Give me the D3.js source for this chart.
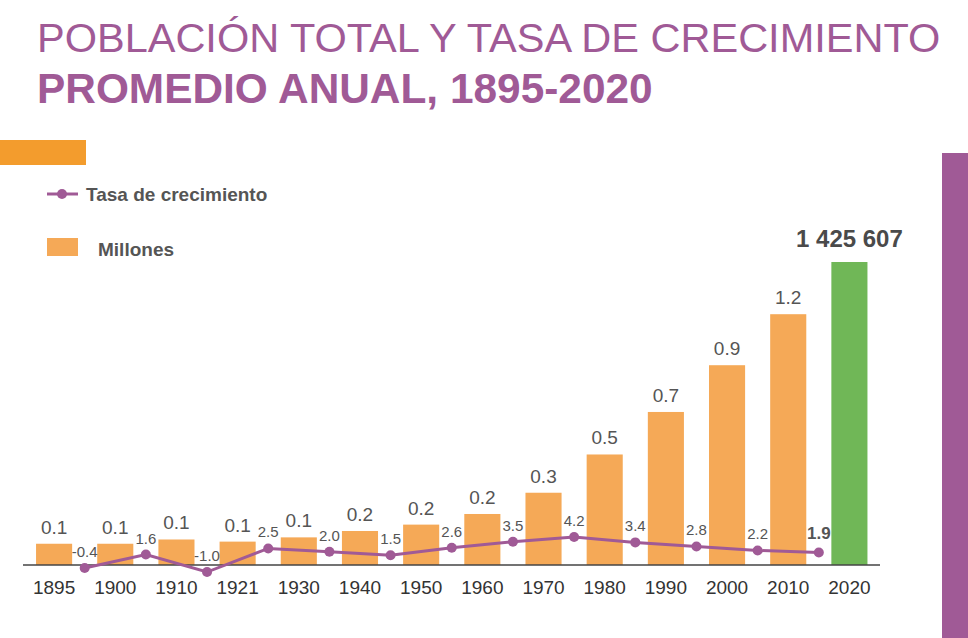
<!DOCTYPE html>
<html><head><meta charset="utf-8">
<script src="https://cdn.jsdelivr.net/npm/d3@7"></script>
<style>body{margin:0;background:#fff}svg{display:block}</style>
</head><body>
<svg id="c" width="968" height="638"></svg>
<script>
const years = ["1895","1900","1910","1921","1930","1940","1950","1960","1970","1980","1990","2000","2010","2020"];
const millones = [0.10,0.10,0.12,0.11,0.13,0.16,0.19,0.24,0.34,0.52,0.72,0.94,1.18,1.425607];
const lastLabel = "1 425 607";
const tasa = [-0.4,1.6,-1.0,2.5,2.0,1.5,2.6,3.5,4.2,3.4,2.8,2.2,1.9];
const titleLines = ["POBLACIÓN TOTAL Y TASA DE CRECIMIENTO","PROMEDIO ANUAL, 1895-2020"];

const svg = d3.select("#c");
const purple = "#a05a96", orange = "#f5a957", green = "#70b757", txt = "#555";
const font = "'Liberation Sans', Arial, sans-serif";

svg.append("text").attr("x",37).attr("y",52).attr("fill",purple).attr("font-family",font)
  .attr("font-size",41.5).text(titleLines[0]);
svg.append("text").attr("x",37).attr("y",103).attr("fill",purple).attr("font-family",font)
  .attr("font-weight","bold").attr("font-size",42.4).text(titleLines[1]);

svg.append("rect").attr("x",0).attr("y",140).attr("width",86).attr("height",25).attr("fill","#f39c2d");
svg.append("rect").attr("x",942).attr("y",153).attr("width",26).attr("height",485).attr("fill",purple);

// legend
svg.append("line").attr("x1",47).attr("x2",78).attr("y1",194).attr("y2",194).attr("stroke",purple).attr("stroke-width",3);
svg.append("circle").attr("cx",62).attr("cy",194).attr("r",5).attr("fill",purple);
svg.append("text").attr("x",86).attr("y",201).attr("fill",txt).attr("font-family",font).attr("font-weight","bold").attr("font-size",19).text("Tasa de crecimiento");
svg.append("rect").attr("x",47).attr("y",238).attr("width",31).attr("height",18).attr("fill",orange);
svg.append("text").attr("x",98).attr("y",256).attr("fill",txt).attr("font-family",font).attr("font-weight","bold").attr("font-size",19).text("Millones");

const x = d3.scaleBand().domain(years).range([23.5,880]).paddingInner(0.41).paddingOuter(0.205);
const y = d3.scaleLinear().domain([0,1.425607]).range([565,262]);
const y2 = d3.scaleLinear().domain([0,4.2]).range([565.3,537]);

svg.selectAll("rect.bar").data(years).join("rect").attr("class","bar")
  .attr("x",d=>x(d)).attr("width",x.bandwidth())
  .attr("y",(d,i)=>y(millones[i])).attr("height",(d,i)=>y(0)-y(millones[i]))
  .attr("fill",(d,i)=>i===years.length-1?green:orange);

const last = years.length-1;
svg.selectAll("text.bl").data(years).join("text").attr("class","bl")
  .attr("x",d=>x(d)+x.bandwidth()/2).attr("y",(d,i)=>y(millones[i])-(i===last?15:10))
  .attr("text-anchor","middle").attr("fill",(d,i)=>i===last?"#4a4a4a":txt).attr("font-family",font)
  .attr("font-size",(d,i)=>i===last?24:19).attr("font-weight",(d,i)=>i===last?"bold":"normal")
  .text((d,i)=>i===last?lastLabel:millones[i].toFixed(1));

// axis
const ax = svg.append("g").attr("transform","translate(0,565)").call(d3.axisBottom(x).tickSize(0).tickPadding(16));
ax.select(".domain").attr("stroke","#444").attr("stroke-width",1.5).attr("d","M23,0H880");
ax.selectAll("text").attr("font-family",font).attr("font-size",19).attr("fill","#333");

// line
const px = (d,i)=>x(years[i])+x.bandwidth()+(x.step()-x.bandwidth())/2;
const pts = tasa.map((v,i)=>[px(v,i),y2(v)]);
svg.append("path").attr("d",d3.line()(pts)).attr("fill","none").attr("stroke",purple).attr("stroke-width",3);
svg.selectAll("circle.p").data(tasa).join("circle").attr("class","p")
  .attr("cx",(d,i)=>px(d,i)).attr("cy",d=>y2(d)).attr("r",5).attr("fill",purple);
svg.selectAll("text.tl").data(tasa).join("text").attr("class","tl")
  .attr("x",(d,i)=>px(d,i)).attr("y",(d,i)=>y2(d)-(i===tasa.length-1?13:11))
  .attr("text-anchor","middle").attr("font-family",font).attr("fill",txt)
  .attr("font-size",(d,i)=>i===tasa.length-1?17:15).attr("font-weight",(d,i)=>i===tasa.length-1?"bold":"normal")
  .text(d=>d.toFixed(1));
</script>
</body></html>
